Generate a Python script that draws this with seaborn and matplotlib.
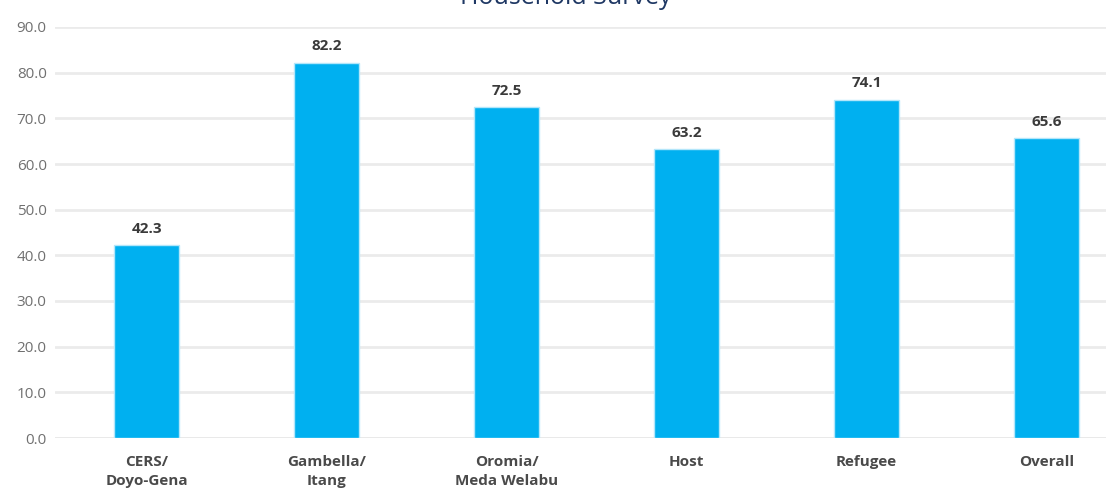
import matplotlib
matplotlib.use("Agg")
import matplotlib.pyplot as plt
import seaborn as sns
import pandas as pd

categories = ["CERS/\nDoyo-Gena", "Gambella/\nItang", "Oromia/\nMeda Welabu", "Host", "Refugee", "Overall"]
values = [42.3, 82.2, 72.5, 63.2, 74.1, 65.6]
yticks = [0, 10, 20, 30, 40, 50, 60, 70, 80, 90]
title = "Household Survey"

sns.set_theme(style="white")
plt.rcParams['font.family'] = ['Open Sans', 'DejaVu Sans']

df = pd.DataFrame({"cat": categories, "val": values})

fig = plt.figure(figsize=(11.06, 4.92), dpi=100)
ax = fig.add_axes([55/1106, 54/492, 1 - 55/1106, (438-27)/492])

sns.barplot(data=df, x="cat", y="val", ax=ax, color="#00b0f0", width=0.36,
            edgecolor="#b3e6fa", linewidth=1.0, saturation=1)

ax.set_ylim(0, 90)
ax.set_xlim(-0.51, 5.33)
ax.set_yticks(yticks)
ax.set_yticklabels([f"{v:.1f}" for v in yticks], color="#707070", fontsize=11)
ax.yaxis.grid(True, color="#ebebeb", linewidth=2)
ax.set_axisbelow(True)
for s in ax.spines.values():
    s.set_visible(False)
ax.axhline(0, color="#dcdcdc", linewidth=2, zorder=0.5)
ax.tick_params(axis="y", length=0, pad=6)
ax.tick_params(axis="x", length=0, pad=12)
ax.set_xticks(range(len(categories)))
ax.set_xticklabels(categories, color="#4a4a4a", fontsize=11, fontweight="bold",
                   linespacing=1.5, va="top")
ax.set_xlabel("")
ax.set_ylabel("")

for i, v in enumerate(values):
    ax.text(i, v + 2.0, f"{v:.1f}", ha="center", va="bottom", fontsize=11,
            fontweight="bold", color="#3a3a3a")

fig.text(566/1106, (492-4)/492, title, ha="center", va="baseline", fontsize=18, color="#1f3864")

fig.savefig("out.png", dpi=100)
